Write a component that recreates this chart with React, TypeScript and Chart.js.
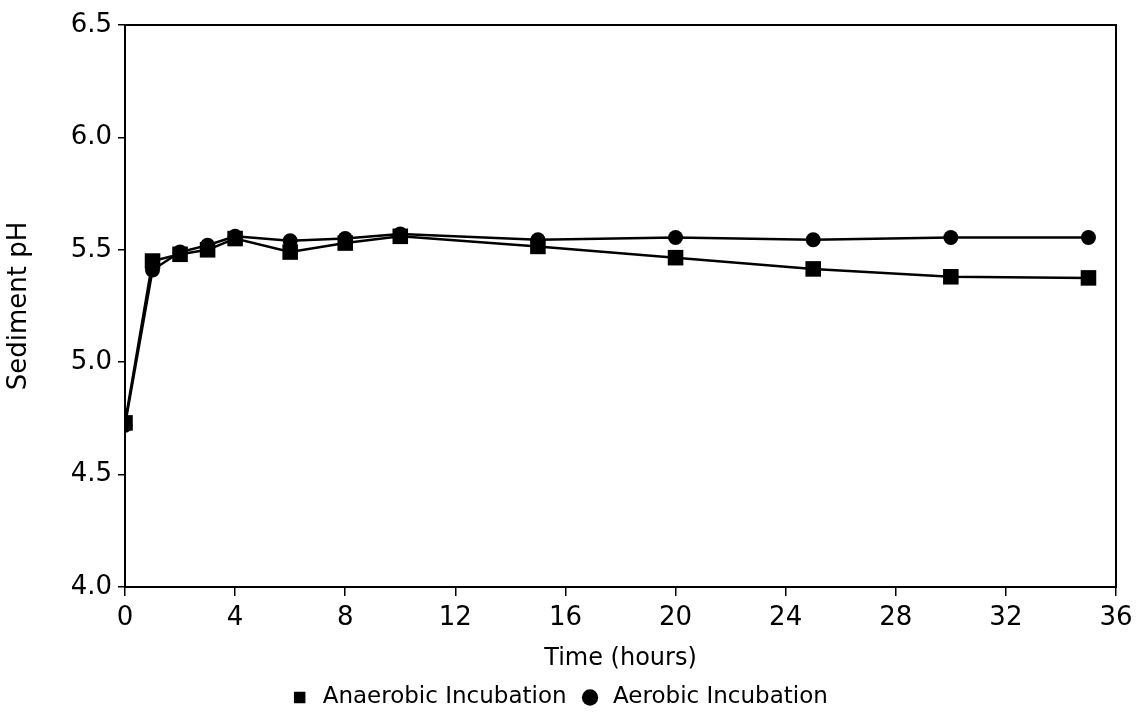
import React, { useEffect, useRef } from "react";
import { Chart, registerables } from "chart.js";

Chart.register(...registerables);

const hours = [0, 1, 2, 3, 4, 6, 8, 10, 15, 20, 25, 30, 35];
const anaerobicPH = [4.73, 5.45, 5.48, 5.5, 5.55, 5.49, 5.53, 5.56, 5.515, 5.465, 5.415, 5.38, 5.375];
const aerobicPH = [4.72, 5.41, 5.49, 5.52, 5.56, 5.54, 5.55, 5.57, 5.545, 5.555, 5.545, 5.555, 5.555];
const seriesNames = ["Anaerobic Incubation", "Aerobic Incubation"];
const xTitle = "Time (hours)";
const yTitle = "Sediment pH";

const FONT = "'DejaVu Sans', sans-serif";
const W = 1146;
const H = 719;
const PLOT_LEFT = 125;
const PLOT_BOTTOM = 587;
const PAD_BOTTOM = 0;

const framePlugin = {
  id: "frame",
  beforeDatasetsDraw(chart: any) {
    const { ctx, chartArea } = chart;
    ctx.save();
    ctx.strokeStyle = "#000";
    ctx.lineWidth = 2;
    ctx.strokeRect(chartArea.left, chartArea.top, chartArea.right - chartArea.left, chartArea.bottom - chartArea.top);
    ctx.restore();
  },
};

export default function App() {
  const ref = useRef<HTMLCanvasElement | null>(null);

  useEffect(() => {
    if (!ref.current) return;
    const toPts = (ys: number[]) => hours.map((x, i) => ({ x, y: ys[i] }));
    const chart = new Chart(ref.current, {
      type: "line",
      data: {
        datasets: [
          {
            label: seriesNames[0],
            data: toPts(anaerobicPH),
            borderColor: "#000",
            backgroundColor: "#000",
            borderWidth: 2.5,
            pointStyle: "rect",
            pointRadius: 11,
            pointBorderWidth: 0,
            tension: 0,
          },
          {
            label: seriesNames[1],
            data: toPts(aerobicPH),
            borderColor: "#000",
            backgroundColor: "#000",
            borderWidth: 2.5,
            pointStyle: "circle",
            pointRadius: 7.5,
            pointBorderWidth: 0,
            tension: 0,
          },
        ],
      },
      options: {
        responsive: false,
        animation: false,
        layout: { padding: { top: 25, right: 30, left: 0, bottom: PAD_BOTTOM } },
        plugins: {
          tooltip: { enabled: false },
          legend: {
            position: "bottom",
            labels: {
              usePointStyle: true,
              boxHeight: 11.5,
              padding: 12,
              color: "#000",
              font: { family: FONT, size: 23, lineHeight: 1 },
            },
          },
        },
        scales: {
          x: {
            type: "linear",
            min: 0,
            max: 36,
            ticks: {
              stepSize: 4,
              color: "#000",
              padding: 7,
              maxRotation: 0,
              font: { family: FONT, size: 26 },
            },
            grid: { drawOnChartArea: false, drawTicks: true, tickLength: 9, color: "#000", lineWidth: 1.5 },
            border: { display: true, color: "#000", width: 2 },
            title: {
              display: true,
              text: xTitle,
              color: "#000",
              padding: { top: 0, bottom: 3 },
              font: { family: FONT, size: 24, lineHeight: 1 },
            },
            afterFit(scale: any) {
              const lh = scale.chart.legend ? scale.chart.legend.height : 0;
              scale.height = H - PLOT_BOTTOM - lh - PAD_BOTTOM;
            },
          },
          y: {
            min: 4,
            max: 6.5,
            ticks: {
              stepSize: 0.5,
              color: "#000",
              padding: 6,
              font: { family: FONT, size: 26 },
              callback: (v: any) => Number(v).toFixed(1),
            },
            grid: { drawOnChartArea: false, drawTicks: true, tickLength: 7, color: "#000", lineWidth: 1.5 },
            border: { display: true, color: "#000", width: 2 },
            title: {
              display: true,
              text: yTitle,
              color: "#000",
              padding: { top: 6, bottom: 0 },
              font: { family: FONT, size: 26, lineHeight: 1 },
            },
            afterFit(scale: any) {
              scale.width = PLOT_LEFT;
            },
          },
        },
      },
      plugins: [framePlugin],
    });
    return () => chart.destroy();
  }, []);

  return (
    <div style={{ position: "absolute", left: 0, top: 0, width: W, height: H, background: "#fff" }}>
      <canvas ref={ref} width={W} height={H} style={{ display: "block" }} />
    </div>
  );
}
